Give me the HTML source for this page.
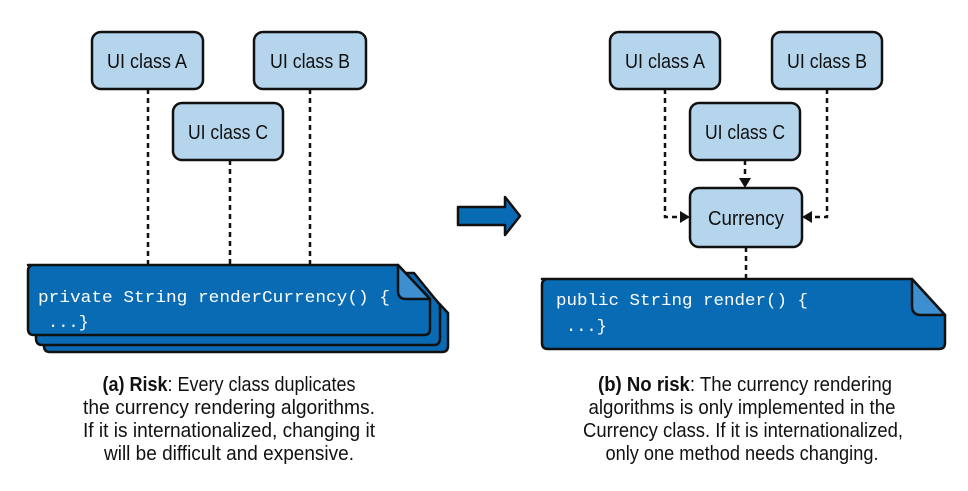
<!DOCTYPE html>
<html><head><meta charset="utf-8"><style>html,body{margin:0;padding:0;background:#fff;width:968px;height:491px;overflow:hidden}</style></head>
<body>
<svg width="968" height="491" viewBox="0 0 968 491" xmlns="http://www.w3.org/2000/svg">
<g font-family="Liberation Sans, sans-serif" font-size="20" fill="#111" text-anchor="middle">
<g stroke="#111" stroke-width="2.5" stroke-dasharray="5,4" fill="none">
<line x1="148" y1="89" x2="148" y2="265"/>
<line x1="230" y1="160" x2="230" y2="265"/>
<line x1="310" y1="89" x2="310" y2="265"/>
</g>
<g fill="#b4d5ec" stroke="#111" stroke-width="2.5">
<rect x="92" y="32" width="111" height="57" rx="9"/>
<rect x="254" y="32" width="112" height="57" rx="9"/>
<rect x="173" y="103" width="110" height="57" rx="9"/>
</g>
<text x="147" y="68" textLength="80" lengthAdjust="spacingAndGlyphs">UI class A</text>
<text x="310" y="68" textLength="80" lengthAdjust="spacingAndGlyphs">UI class B</text>
<text x="228" y="139" textLength="80" lengthAdjust="spacingAndGlyphs">UI class C</text>
<g stroke="#111" stroke-width="2.5" stroke-linejoin="round">
<path d="M44,281 H418 L448,313 V346 Q448,352 442,352 H50 Q44,352 44,346 Z" fill="#0a6bb5"/>
<path d="M36,273 H414 L440,305 V338 Q440,345 434,345 H42 Q36,345 36,338 Z" fill="#0a6bb5"/>
<path d="M28,265 H398 L430,299 V329 Q430,335 424,335 H34 Q28,335 28,329 V271 Q28,265 34,265 Z" fill="#0a6bb5"/>
<path d="M398,265 V291 Q398,299 406,299 H430 Z" fill="#3d8fd0"/>
</g>
<g font-family="Liberation Mono, monospace" font-size="17" fill="#fff" text-anchor="start">
<text x="38" y="302" textLength="352" lengthAdjust="spacingAndGlyphs">private String renderCurrency() {</text>
<text x="48" y="327">...}</text>
</g>
<path d="M458,207 H505 V197 L520,216 L505,235 V225 H458 Z" fill="#0a6bb5" stroke="#111" stroke-width="2.5" stroke-linejoin="round"/>
<g stroke="#111" stroke-width="2.5" stroke-dasharray="5,4" fill="none">
<polyline points="665,89 665,217 682,217"/>
<polyline points="827,89 827,217 812,217"/>
<line x1="745" y1="160" x2="745" y2="178"/>
<line x1="746" y1="247" x2="746" y2="279"/>
</g>
<g fill="#111">
<path d="M690,217 L680,211 L680,223 Z"/>
<path d="M802,217 L812,211 L812,223 Z"/>
<path d="M745,188 L739,178 L751,178 Z"/>
</g>
<g fill="#b4d5ec" stroke="#111" stroke-width="2.5">
<rect x="610" y="32" width="110" height="57" rx="9"/>
<rect x="772" y="32" width="110" height="57" rx="9"/>
<rect x="690" y="103" width="110" height="57" rx="9"/>
<rect x="690" y="188" width="112" height="59" rx="9"/>
</g>
<text x="665" y="68" textLength="80" lengthAdjust="spacingAndGlyphs">UI class A</text>
<text x="827" y="68" textLength="80" lengthAdjust="spacingAndGlyphs">UI class B</text>
<text x="745" y="139" textLength="80" lengthAdjust="spacingAndGlyphs">UI class C</text>
<text x="746" y="225" textLength="76" lengthAdjust="spacingAndGlyphs">Currency</text>
<g stroke="#111" stroke-width="2.5" stroke-linejoin="round">
<path d="M542,279 H912 L945,315 V343 Q945,349 939,349 H548 Q542,349 542,343 V285 Q542,279 548,279 Z" fill="#0a6bb5"/>
<path d="M912,279 V306 Q912,315 921,315 H945 Z" fill="#3d8fd0"/>
</g>
<g font-family="Liberation Mono, monospace" font-size="17" fill="#fff" text-anchor="start">
<text x="556" y="305" textLength="252" lengthAdjust="spacingAndGlyphs">public String render() {</text>
<text x="566" y="331">...}</text>
</g>
<text x="229" y="391" textLength="253" lengthAdjust="spacingAndGlyphs"><tspan font-weight="bold">(a) Risk</tspan>: Every class duplicates</text>
<text x="229" y="414" textLength="292" lengthAdjust="spacingAndGlyphs">the currency rendering algorithms.</text>
<text x="229" y="437" textLength="292" lengthAdjust="spacingAndGlyphs">If it is internationalized, changing it</text>
<text x="229" y="460" textLength="250" lengthAdjust="spacingAndGlyphs">will be difficult and expensive.</text>
<text x="745" y="391" textLength="294" lengthAdjust="spacingAndGlyphs"><tspan font-weight="bold">(b) No risk</tspan>: The currency rendering</text>
<text x="742" y="414" textLength="307" lengthAdjust="spacingAndGlyphs">algorithms is only implemented in the</text>
<text x="743" y="437" textLength="320" lengthAdjust="spacingAndGlyphs">Currency class. If it is internationalized,</text>
<text x="742" y="460" textLength="273" lengthAdjust="spacingAndGlyphs">only one method needs changing.</text>
</g>
</svg>
</body></html>
